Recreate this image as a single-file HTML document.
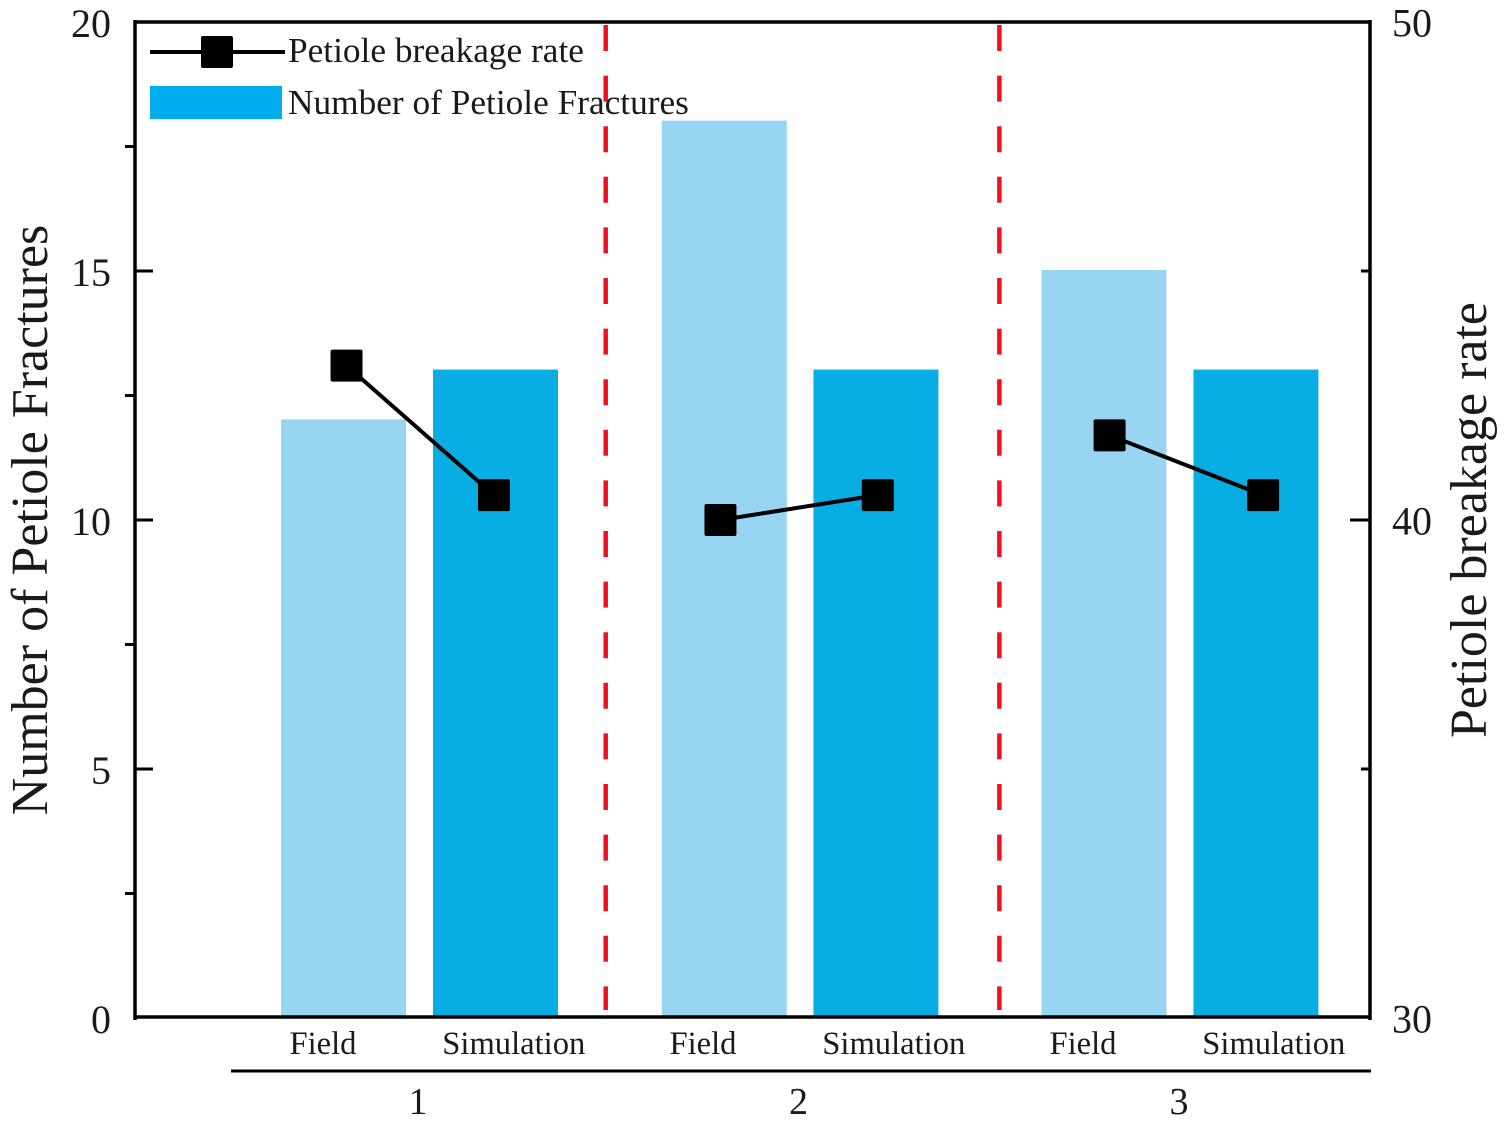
<!DOCTYPE html>
<html lang="en">
<head>
<meta charset="utf-8">
<title>Petiole fractures and breakage rate</title>
<style>
html,body{margin:0;padding:0;background:#fff;}
svg{display:block;font-family:"Liberation Serif",serif;fill:#1a1a1a;}
</style>
</head>
<body>
<svg id="chart" xmlns="http://www.w3.org/2000/svg" width="1511" height="1126" viewBox="0 0 1511 1126"></svg>
<script>
const groups = ['1', '2', '3'];
const treatments = ['Field', 'Simulation'];
const barPositions = [0, 1, 2.505, 3.503, 5.003, 6.003];
const fractureCounts = [12, 13, 18, 13, 15, 13];
const ratePositions = [0.02, 0.99, 2.48, 3.515, 5.04, 6.05];
const breakageRates = [43.1, 40.5, 40, 40.5, 41.7, 40.5];
const leftMajorTicks = [0, 5, 10, 15, 20];
const leftMinorTicks = [2.5, 7.5, 12.5, 17.5];
const rightMajorTicks = [30, 40, 50];
const rightMinorTicks = [35, 45];
const separators = [1.725, 4.315];

const svg = document.getElementById('chart');
const NS = 'http://www.w3.org/2000/svg';
const plot = { left: 135, right: 1370, top: 22, bottom: 1018 };
const yLeft = v => plot.bottom - (v / 20) * (plot.bottom - plot.top);
const yRight = v => plot.bottom - ((v - 30) / 20) * (plot.bottom - plot.top);
const xPos = v => 343.5 + 152 * v;
const BAR_WIDTH = 125;
const MARKER = 32;

function make(tag, attrs, text) {
  const node = document.createElementNS(NS, tag);
  for (const k in attrs) node.setAttribute(k, attrs[k]);
  if (text !== undefined) node.textContent = text;
  svg.appendChild(node);
  return node;
}
function line(x1, y1, x2, y2, w) {
  return make('line', { x1, y1, x2, y2, stroke: '#000', 'stroke-width': w });
}

/* bars */
barPositions.forEach((p, i) => {
  const top = yLeft(fractureCounts[i]) - 1;
  const bar = make('rect', {
    x: xPos(p) - BAR_WIDTH / 2, y: top, width: BAR_WIDTH, height: plot.bottom - top,
    fill: i % 2 === 0 ? '#98d5f2' : '#08ade3'
  });
  
  
});

/* red separators */
separators.forEach((p, i) => {
  const sep = line(xPos(p), 25, xPos(p), 1010, 4.5);
  sep.setAttribute('stroke', '#f01020');
  sep.setAttribute('stroke-dasharray', '26 24.6');
  
  
});

/* rate line segments, one per group */
groups.forEach((g, i) => {
  const a = i * 2, b = i * 2 + 1;
  const seg = line(xPos(ratePositions[a]), yRight(breakageRates[a]), xPos(ratePositions[b]), yRight(breakageRates[b]), 4);
  
  
});
ratePositions.forEach((p, i) => {
  const pt = make('rect', {
    x: xPos(p) - MARKER / 2, y: yRight(breakageRates[i]) - MARKER / 2,
    width: MARKER, height: MARKER, rx: 2, fill: '#000'
  });
  
  
});

/* frame */
const frame = [
  ['axis-top', plot.left - 1.5, plot.top, plot.right + 1.5, plot.top, 3.5],
  ['axis-bottom', plot.left - 1.5, plot.bottom - 1, plot.right + 1.5, plot.bottom - 1, 3.5],
  ['axis-left', plot.left, plot.top - 2, plot.left, plot.bottom + 2, 3.5],
  ['axis-right', plot.right, plot.top - 2, plot.right, plot.bottom + 2, 3.5]
];
frame.forEach(f => {
  const axis = line(f[1], f[2], f[3], f[4], f[5]);
  
  
});

/* left axis */
leftMajorTicks.forEach(v => {
  if (v > 0 && v < 20) {
    const t = line(plot.left, yLeft(v), plot.left + 18, yLeft(v), 3);
    
    
  }
  const label = make('text', { x: 111, y: yLeft(v) + 15, 'text-anchor': 'end', 'font-size': 40 }, String(v));
  
  
});
leftMinorTicks.forEach(v => {
  const t = line(plot.left - 10, yLeft(v), plot.left, yLeft(v), 3);
  
  
});

/* right axis */
rightMajorTicks.forEach(v => {
  if (v > 30 && v < 50) {
    const t = line(plot.right - 20, yRight(v), plot.right, yRight(v), 3);
    
    
  }
  const label = make('text', { x: 1392, y: yRight(v) + 14.5, 'font-size': 40 }, String(v));
  
  
});
rightMinorTicks.forEach(v => {
  const t = line(plot.right - 9, yRight(v), plot.right, yRight(v), 3);
  
  
});

/* x labels */
groups.forEach((g, i) => {
  treatments.forEach((name, j) => {
    const lab = make('text', {
      x: 323 + 190 * (i * 2 + j) + (j === 1 ? 0.8 : 0), y: 1054, 'text-anchor': 'middle', 'font-size': 32.6
    }, name);
    
    
  });
  const gl = make('text', { x: 418 + 380.5 * i, y: 1114, 'text-anchor': 'middle', 'font-size': 38 }, g);
  
  
});
const groupRule = line(231, 1071, plot.right + 1, 1071, 3);



/* axis titles */
const leftTitle = make('text', {
  transform: 'translate(47,520) rotate(-90)', 'text-anchor': 'middle', 'font-size': 52
}, 'Number of Petiole Fractures');


const rightTitle = make('text', {
  transform: 'translate(1486,520) rotate(-90)', 'text-anchor': 'middle', 'font-size': 52
}, 'Petiole breakage rate');



/* legend */
const legendLine = line(150, 52, 285, 52, 4);


const legendMarker = make('rect', { x: 201, y: 36, width: MARKER, height: MARKER, rx: 2, fill: '#000' });


const legendRateText = make('text', { x: 288, y: 62, 'font-size': 35.3 }, 'Petiole breakage rate');


const legendSwatch = make('rect', { x: 150, y: 86, width: 132, height: 33, fill: '#00aeef' });


const legendBarText = make('text', { x: 288, y: 114, 'font-size': 35.3 }, 'Number of Petiole Fractures');


</script>
</body>
</html>
